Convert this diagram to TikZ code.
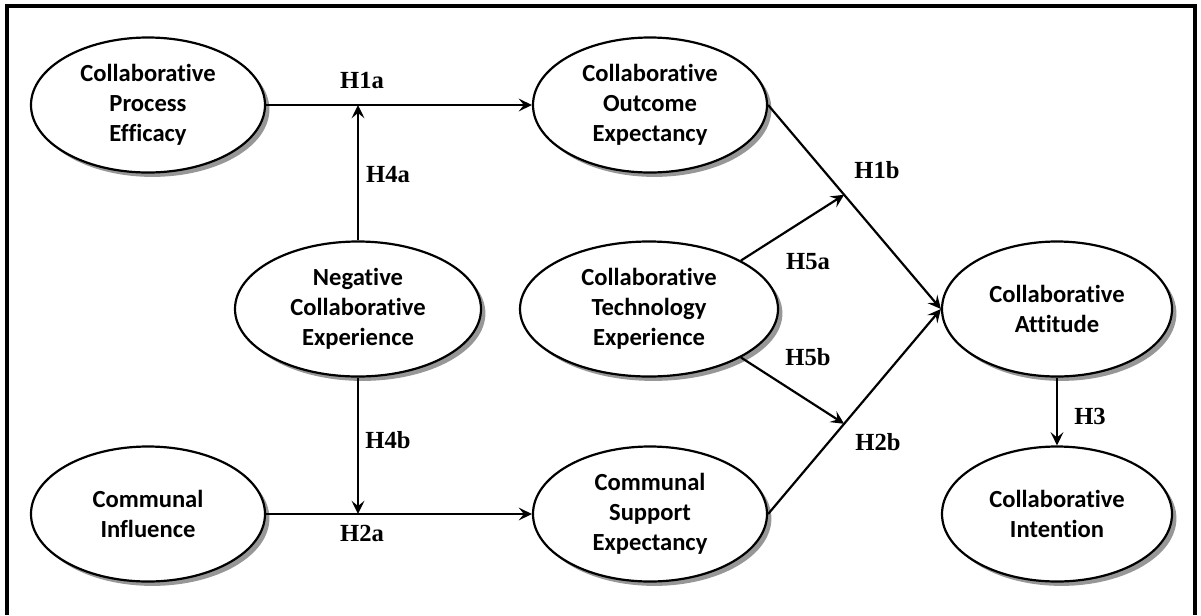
\documentclass[tikz,border=0pt]{standalone}
\usepackage{fontspec}
\setmainfont[Ligatures=NoCommon]{Carlito}
\newfontfamily\hypfont{Liberation Serif}
\usetikzlibrary{arrows.meta,calc,shapes.geometric,shadows}
\definecolor{ink}{HTML}{000000}
\definecolor{shade}{HTML}{8C8C8C}
\newcommand{\factorsize}{\fontsize{17.5}{21.3}\selectfont}
\newcommand{\hypsize}{\fontsize{17.5}{20}\selectfont}
\tikzset{
 every node/.append style={text=ink,align=center},
 factor/.style={ellipse,draw=ink,fill=white,line width=.055cm,inner sep=0pt,minimum height=3.375cm,
   font=\factorsize\bfseries,drop shadow={shadow xshift=.11cm,shadow yshift=-.11cm,fill=shade,opacity=.9}},
 hyp/.style={font=\hypfont\hypsize\bfseries,inner sep=1pt},
 link/.style={-{Stealth[length=3.3mm,width=3.2mm,inset=1.3mm]},draw=ink,line width=.055cm},
 pageframe/.style={draw=ink,line width=.1cm},
}

\begin{document}
\begin{tikzpicture}
\useasboundingbox (0,0) rectangle (30.025,-15.375);
\draw[pageframe] (.175,-15.375) -- (.175,-.15) -- (29.875,-.15) -- (29.875,-15.375);

\node[factor,minimum width=5.85cm] (cpe) at (3.7,-2.625) {Collaborative\\Process\\Efficacy};
\node[factor,minimum width=5.85cm] (coe) at (16.25,-2.625) {Collaborative\\Outcome\\Expectancy};
\node[factor,minimum width=6.15cm] (neg) at (8.95,-7.725) {Negative\\Collaborative\\Experience};
\node[factor,minimum width=6.45cm] (tech) at (16.225,-7.725) {Collaborative\\Technology\\Experience};
\node[factor,minimum width=5.75cm] (att) at (26.425,-7.725) {Collaborative\\Attitude};
\node[factor,minimum width=5.85cm] (ci) at (3.7,-12.85) {Communal\\Influence};
\node[factor,minimum width=5.85cm] (csx) at (16.25,-12.85) {Communal\\Support\\Expectancy};
\node[factor,minimum width=5.75cm] (int) at (26.425,-12.85) {Collaborative\\Intention};

\coordinate (j4a) at (neg.north |- cpe.east);
\coordinate (j4b) at (neg.south |- ci.east);
\coordinate (j5a) at ($(coe.east)!.44!(att.west)$);
\coordinate (j5b) at ($(csx.east)!.44!(att.west)$);

\draw[link] (cpe) -- (coe);
\draw[link] (neg) -- (j4a);
\draw[link] (neg) -- (j4b);
\draw[link] (ci) -- (csx);
\draw[link] (coe.east) -- (att.west);
\draw[link] (csx.east) -- (att.west);
\draw[link] (tech.north east) -- (j5a);
\draw[link] (tech.south east) -- (j5b);
\draw[link] (att) -- (int);

\node[hyp] (h1a) at (9.05,-2.0) {H1a};
\node[hyp] (h4a) at (9.7,-4.375) {H4a};
\node[hyp] (h4b) at (9.7,-11.0) {H4b};
\node[hyp] (h2a) at (9.05,-13.325) {H2a};
\node[hyp] (h1b) at (21.925,-4.25) {H1b};
\node[hyp] (h5a) at (20.2,-6.55) {H5a};
\node[hyp] (h5b) at (20.2,-8.925) {H5b};
\node[hyp] (h2b) at (21.95,-11.05) {H2b};
\node[hyp] (h3) at (27.25,-10.4) {H3};
\end{tikzpicture}
\end{document}
